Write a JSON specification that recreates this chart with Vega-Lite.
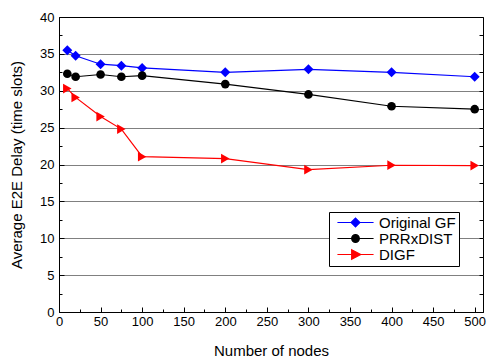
{
  "$schema": "https://vega.github.io/schema/vega-lite/v6.json",
  "width": 424,
  "height": 295,
  "autosize": {"type": "none"},
  "padding": {"left": 59, "top": 17, "right": 4, "bottom": 48},
  "background": "white",
  "config": {
    "font": "Liberation Sans",
    "view": {"stroke": "black", "strokeWidth": 1},
    "axis": {"labelFont": "Liberation Sans", "titleFont": "Liberation Sans", "labelFontSize": 13, "titleFontSize": 15, "titleFontWeight": "normal", "labelColor": "black", "titleColor": "black", "domainColor": "black", "tickColor": "black"}
  },
  "data": {
    "values": [
      {"nodes": 10, "delay": 35.5, "series": "Original GF"},
      {"nodes": 20, "delay": 34.75, "series": "Original GF"},
      {"nodes": 50, "delay": 33.6, "series": "Original GF"},
      {"nodes": 75, "delay": 33.4, "series": "Original GF"},
      {"nodes": 100, "delay": 33.1, "series": "Original GF"},
      {"nodes": 200, "delay": 32.5, "series": "Original GF"},
      {"nodes": 300, "delay": 32.9, "series": "Original GF"},
      {"nodes": 400, "delay": 32.5, "series": "Original GF"},
      {"nodes": 500, "delay": 31.9, "series": "Original GF"},
      {"nodes": 10, "delay": 32.3, "series": "PRRxDIST"},
      {"nodes": 20, "delay": 31.9, "series": "PRRxDIST"},
      {"nodes": 50, "delay": 32.2, "series": "PRRxDIST"},
      {"nodes": 75, "delay": 31.9, "series": "PRRxDIST"},
      {"nodes": 100, "delay": 32.05, "series": "PRRxDIST"},
      {"nodes": 200, "delay": 30.9, "series": "PRRxDIST"},
      {"nodes": 300, "delay": 29.5, "series": "PRRxDIST"},
      {"nodes": 400, "delay": 27.9, "series": "PRRxDIST"},
      {"nodes": 500, "delay": 27.5, "series": "PRRxDIST"},
      {"nodes": 10, "delay": 30.3, "series": "DIGF"},
      {"nodes": 20, "delay": 29.1, "series": "DIGF"},
      {"nodes": 50, "delay": 26.5, "series": "DIGF"},
      {"nodes": 75, "delay": 24.8, "series": "DIGF"},
      {"nodes": 100, "delay": 21.06, "series": "DIGF"},
      {"nodes": 200, "delay": 20.8, "series": "DIGF"},
      {"nodes": 300, "delay": 19.3, "series": "DIGF"},
      {"nodes": 400, "delay": 19.9, "series": "DIGF"},
      {"nodes": 500, "delay": 19.85, "series": "DIGF"}
    ]
  },
  "resolve": {"axis": {"x": "independent", "y": "independent"}},
  "layer": [
    {
      "mark": {"type": "line", "strokeWidth": 1.2},
      "encoding": {
        "x": {"field": "nodes", "type": "quantitative", "scale": {"domain": [0, 510], "nice": false},
          "axis": {"orient": "bottom", "title": "Number of nodes", "values": [0,25,50,75,100,125,150,175,200,225,250,275,300,325,350,375,400,425,450,475,500],
            "labelExpr": "datum.value % 50 === 0 ? datum.label : ''",
            "tickSize": {"expr": "datum.value % 50 === 0 ? -5 : -3"},
            "labelPadding": 8, "titlePadding": 13, "grid": false, "labelFlush": false, "labelOverlap": false}},
        "y": {"field": "delay", "type": "quantitative", "scale": {"domain": [0, 40], "nice": false},
          "axis": {"orient": "left", "title": "Average E2E Delay (time slots)", "values": [0,2.5,5,7.5,10,12.5,15,17.5,20,22.5,25,27.5,30,32.5,35,37.5,40],
            "labelExpr": "datum.value % 5 === 0 ? datum.label : ''",
            "tickSize": {"expr": "datum.value % 5 === 0 ? -5 : -3"},
            "labelPadding": 10, "titlePadding": 15, "grid": true, "gridColor": "#808080", "gridWidth": 1,
            "gridOpacity": {"expr": "datum.value % 5 === 0 && datum.value > 0 && datum.value < 40 ? 1 : 0"},
            "labelOverlap": false, "labelFlush": false}},
        "color": {"field": "series", "type": "nominal", "sort": ["Original GF", "PRRxDIST", "DIGF"],
          "scale": {"domain": ["Original GF", "PRRxDIST", "DIGF"], "range": ["#0000ff", "#000000", "#ff0000"]},
          "legend": {"title": null, "orient": "none", "legendX": 270, "legendY": 195, "strokeColor": "black", "fillColor": "white",
            "padding": 3, "labelFontSize": 15, "labelFont": "Liberation Sans", "labelColor": "black", "symbolSize": 120, "symbolOffset": 16, "labelOffset": 16, "rowPadding": 0, "cornerRadius": 0,
            "encode": {"symbols": {"update": {
              "shape": {"signal": "datum.value === 'Original GF' ? 'M-3.3,0H3.3M-0.8,0L0,-0.8L0.8,0L0,0.8Z' : datum.value === 'PRRxDIST' ? 'M-3.3,0H3.3M-0.7,0A0.7,0.7 0 1 0 0.7,0A0.7,0.7 0 1 0 -0.7,0Z' : 'M-3.3,0H3.3M-0.7,-0.85L0.95,0L-0.7,0.85Z'"},
              "fill": {"signal": "scale('color', datum.value)"},
              "stroke": {"signal": "scale('color', datum.value)"},
              "strokeWidth": {"value": 1.2}}}}}}
      }
    },
    {
      "mark": {"type": "point", "filled": true, "opacity": 1},
      "encoding": {
        "x": {"field": "nodes", "type": "quantitative", "scale": {"domain": [0, 510], "nice": false}, "axis": null},
        "y": {"field": "delay", "type": "quantitative", "scale": {"domain": [0, 40], "nice": false},
          "axis": {"orient": "right", "title": null, "labels": false, "domain": false, "values": [0,2.5,5,7.5,10,12.5,15,17.5,20,22.5,25,27.5,30,32.5,35,37.5,40],
            "tickSize": -4, "grid": false}},
        "color": {"field": "series", "type": "nominal", "sort": ["Original GF", "PRRxDIST", "DIGF"],
          "scale": {"domain": ["Original GF", "PRRxDIST", "DIGF"], "range": ["#0000ff", "#000000", "#ff0000"]}},
        "shape": {"condition": [{"test": "datum.series === 'Original GF'", "value": "diamond"}, {"test": "datum.series === 'PRRxDIST'", "value": "circle"}], "value": "triangle-right"},
        "size": {"condition": [{"test": "datum.series === 'Original GF'", "value": 100}, {"test": "datum.series === 'PRRxDIST'", "value": 75}], "value": 95}
      }
    }
  ]
}
